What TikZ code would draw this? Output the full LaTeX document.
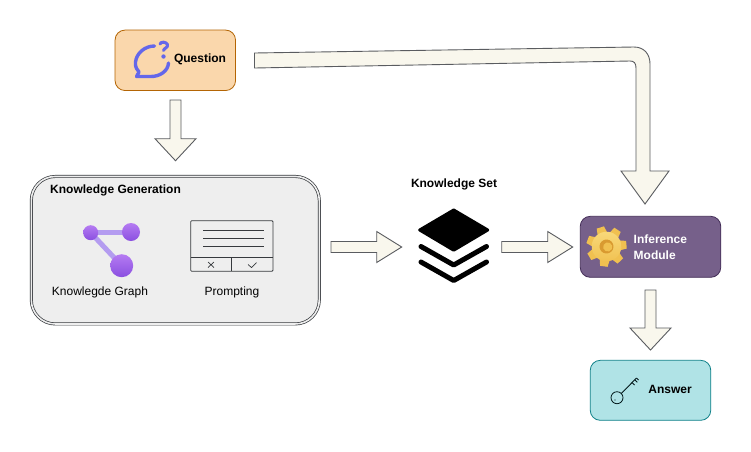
\documentclass[tikz,border=0pt]{standalone}
\usepackage{fontspec}
\setmainfont{Liberation Sans}
\usetikzlibrary{calc}
\definecolor{qfill}{HTML}{FAD7AC}\definecolor{qline}{HTML}{B46504}
\definecolor{afill}{HTML}{B0E3E6}\definecolor{aline}{HTML}{0E8088}
\definecolor{ifill}{HTML}{76608A}\definecolor{iline}{HTML}{432D57}
\definecolor{arrfill}{HTML}{F9F7ED}\definecolor{arrline}{HTML}{5A5C60}
\definecolor{kgfill}{HTML}{EEEEEE}\definecolor{kgline}{HTML}{36393D}
\definecolor{bubble}{HTML}{6467EA}
\definecolor{pdark}{HTML}{8A4FE0}\definecolor{plight}{HTML}{B57BF2}\definecolor{plink}{HTML}{B49CF0}
\definecolor{gearlight}{HTML}{F8D878}\definecolor{gearmid}{HTML}{F0C050}\definecolor{geardark}{HTML}{D99A30}
\tikzset{
  box/.style={rounded corners=10pt,minimum width=#1,line width=.8pt,inner sep=0pt},
  lbl/.style={font=\fontsize{12}{14}\selectfont,text=black,inner sep=0pt},
  blbl/.style={lbl,font=\fontsize{12}{14}\selectfont\bfseries},
  blockarrow/.style={draw=arrline,fill=arrfill,line width=.9pt,line join=miter},
  iconline/.style={draw=#1,line cap=round,line join=round},
  ball/.style={circle,minimum size=#1,inner sep=0pt,top color=plight,bottom color=pdark}
}
% block arrow pointing down, from named coordinate to named coordinate
\newcommand{\downblock}[2]{\draw[blockarrow] let \p1=(#1),\p2=(#2) in
  (\x1-5.5pt,\y1) -- (\x1+5.5pt,\y1) -- (\x1+5.5pt,\y2+22pt) -- (\x1+20.5pt,\y2+22pt)
  -- (\x2,\y2) -- (\x1-20.5pt,\y2+22pt) -- (\x1-5.5pt,\y2+22pt) -- cycle;}
% block arrow pointing right
\newcommand{\rightblock}[2]{\draw[blockarrow] let \p1=(#1),\p2=(#2) in
  (\x1,\y1+5.5pt) -- (\x2-25pt,\y1+5.5pt) -- (\x2-25pt,\y1+15.5pt) -- (\x2,\y2)
  -- (\x2-25pt,\y1-15.5pt) -- (\x2-25pt,\y1-5.5pt) -- (\x1,\y1-5.5pt) -- cycle;}
\begin{document}
\begin{tikzpicture}[x=1pt,y=-1pt]
\useasboundingbox (0,0) rectangle (751,451);
\fill[white] (0,0) rectangle (751,451);

% boxes
\node[box=120.5pt,minimum height=60.5pt,draw=qline,fill=qfill] (question) at (175.3,60.3) {};
\node[box=140.5pt,minimum height=61pt,draw=iline,fill=ifill] (inference) at (650.5,246.8) {};
\node[box=120.5pt,minimum height=60pt,draw=aline,fill=afill] (answer) at (650.5,390.3) {};
\node[rounded corners=24pt,minimum width=288pt,minimum height=147.5pt,inner sep=0pt,
  draw=kgline,line width=.7pt,double=kgfill,double distance=1.6pt,fill=kgfill] (kg) at (175.3,250.2) {};

% labels
\node[blbl] (qlabel) at (200,58.9) {Question};
\node[blbl,anchor=west] (kgtitle) at (50,190.3) {Knowledge Generation};
\node[lbl] (graphlabel) at (100,291.9) {Knowlegde Graph};
\node[lbl] (promptlabel) at (232,291.9) {Prompting};
\node[blbl] (kslabel) at (454,184.9) {Knowledge Set};
\node[blbl,text=white,anchor=west] (inf1) at (633.5,239.7) {Inference};
\node[blbl,text=white,anchor=west] (inf2) at (633.5,255) {Module};
\node[blbl] (alabel) at (670,389.3) {Answer};

% knowledge set stack
\fill[black,draw=black,line width=3pt,line join=round]
  (453.7,210) -- (419.7,230) -- (453.7,250.2) -- (487.7,230) -- cycle;
\draw[black,line width=5pt,line cap=round,line join=round] (421,246.5) -- (453.7,265) -- (486.5,246.5);
\draw[black,line width=5pt,line cap=round,line join=round] (421,262) -- (453.7,280.5) -- (486.5,262);

% connectors
\coordinate (a1s) at (175.5,100);
\coordinate (a1e) at (175.5,160.7);
\downblock{a1s}{a1e}
\coordinate (a2s) at (331,247);
\coordinate (a2e) at (401.7,247);
\rightblock{a2s}{a2e}
\coordinate (a3s) at (501.7,247);
\coordinate (a3e) at (572.7,247);
\rightblock{a3s}{a3e}
\coordinate (a4s) at (650.5,290);
\coordinate (a4e) at (650.5,350);
\downblock{a4s}{a4e}
% bent arrow from the question to the inference module
\coordinate (a5e) at (645,204);
\draw[blockarrow] (254.5,53) -- (634,47) .. controls (644,47) and (650,54) .. (650,64)
  -- (650,171) -- (669,171) -- (a5e) -- (621,171) -- (636,171) -- (636,68)
  .. controls (636,63) and (634,61) .. (630,61) -- (254.5,68) -- cycle;

% question icon
\draw[iconline=bubble,line width=3.4pt] (154.5,46) .. controls (145,46) and (136.5,53) .. (135.5,62)
  .. controls (135,67) and (137,70) .. (139,72) -- (136.5,76.5) -- (151,76.5)
  .. controls (160,76.5) and (168,71) .. (168.5,63);
\draw[iconline=bubble,line width=3pt] (160,44) .. controls (160.5,41.5) and (166,41.5) .. (167.5,44.5)
  .. controls (168.5,47.5) and (164,48) .. (163.5,50.5);
\fill[bubble] (163.5,56.5) circle (2.2);

% knowledge graph icon
\draw[plink,line width=5pt] (90.7,232.7) -- (131,232.7);
\draw[plink,line width=5pt] (90.7,232.7) -- (121.7,265.7);
\node[ball=15pt] (gn1) at (90.7,232.7) {};
\node[ball=18pt] (gn2) at (131,232) {};
\node[ball=23pt] (gn3) at (121.7,265.7) {};

% prompting icon
\draw[kgline,line width=.8pt,rounded corners=1pt] (190.7,220.7) rectangle (273,271.3);
\draw[kgline,line width=.9pt] (190.7,257) -- (273,257) (231.7,257) -- (231.7,271.3);
\draw[kgline,line width=.7pt] (203,230.7) -- (263.7,230.7) (203,238.4) -- (263.7,238.4) (203,246.3) -- (263.7,246.3);
\draw[kgline,line width=.7pt] (208,262) -- (214,267.5) (214,262) -- (208,267.5);
\draw[kgline,line width=.7pt] (248,264.5) -- (251.5,267.5) -- (256.5,262.5);

% gear icon
\begin{scope}[shift={(606.5,246.5)},rotate=18]
  \foreach \a in {0,51.43,...,308.6}{
    \fill[gearmid,rotate=\a] (-5,-13) -- (-3.8,-20) -- (3.8,-20) -- (5,-13) -- cycle;
  }
  \shade[top color=gearlight,bottom color=gearmid] (0,0) circle (14.8);
  \fill[geardark] (0,0) circle (7);
  \fill[gearmid] (1,0.8) circle (4.6);
\end{scope}

% key icon
\draw[black!80!aline,line width=.8pt] (617,397.7) circle (6);
\fill[black!80!aline] (615,400) circle (.6);
\draw[black!80!aline,line width=.9pt] (621.3,393.5) -- (636.5,378);
\draw[black!80!aline,line width=.9pt] (632,382.5) -- (634.5,385) (634.7,379.8) -- (637.2,382.3) (636.5,378) -- (638.5,380);
\end{tikzpicture}
\end{document}
